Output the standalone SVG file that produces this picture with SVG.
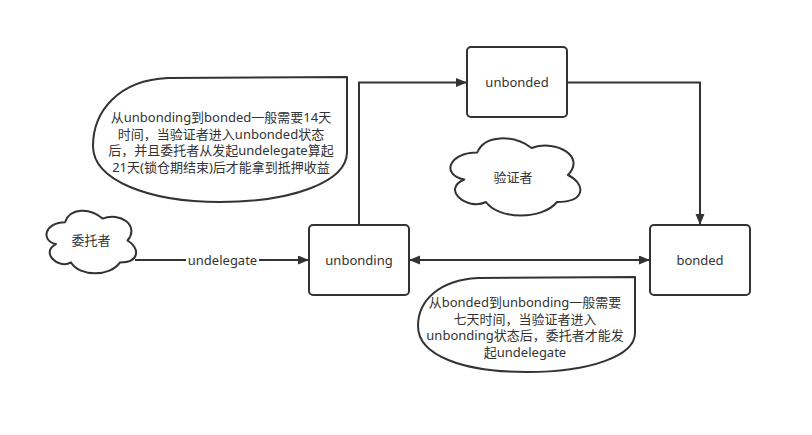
<svg xmlns="http://www.w3.org/2000/svg" width="812" height="435" viewBox="0 0 812 435">
<defs>
<style>
.box{fill:#fff;stroke:#333;stroke-width:2}
.shape{fill:#fff;stroke:#333;stroke-width:2;stroke-linejoin:round}
.edge{fill:none;stroke:#333;stroke-width:2}
text{font-family:"Noto Sans","Noto Sans CJK SC",sans-serif;font-size:13px;fill:#333;text-anchor:middle;dominant-baseline:central}
</style>
<marker id="arr" markerUnits="userSpaceOnUse" markerWidth="12" markerHeight="10" refX="11" refY="4.5" orient="auto-start-reverse">
<path d="M0,0 L11,4.5 L0,9 Z" fill="#333"/>
</marker>
</defs>
<rect width="812" height="435" fill="#fff"/>

<g id="callout-unbonding">
<path class="shape" d="M347,77 L347,152 C347,182 292,202 220,202 C148,202 93,180 93,146 C93,112 118,80 168,78 Z"/>
<text x="221" y="117">从unbonding到bonded一般需要14天</text>
<text x="221" y="133.5">时间，当验证者进入unbonded状态</text>
<text x="221" y="150">后，并且委托者从发起undelegate算起</text>
<text x="221" y="166.5">21天(锁仓期结束)后才能拿到抵押收益</text>
</g>

<g id="callout-bonded">
<path class="shape" d="M635,277 L635,333 C635,356 590,372 527,372 C464,372 418,356 418,326 C418,300 440,280 478,278 Z"/>
<text x="525" y="302.3">从bonded到unbonding一般需要</text>
<text x="525" y="318.8">七天时间，当验证者进入</text>
<text x="525" y="335.3">unbonding状态后，委托者才能发</text>
<text x="525" y="351.8">起undelegate</text>
</g>

<g id="connectors">
<path class="edge" d="M135,260 L309,260" marker-end="url(#arr)"/>
<rect x="186" y="252" width="73" height="16" fill="#fff"/>
<text x="222.5" y="260">undelegate</text>
<path class="edge" d="M359,225 L359,82.5 L467,82.5" marker-end="url(#arr)"/>
<path class="edge" d="M567,82.5 L700,82.5 L700,225" marker-end="url(#arr)"/>
<path class="edge" d="M409,260 L650,260" marker-start="url(#arr)" marker-end="url(#arr)"/>
</g>

<g id="delegator">
<path class="shape" d="M65,222.25 C45,222.25 40,240.5 56,244.15 C40,252.18 58,269.7 71,262.4 C80,277 110,277 120,262.4 C140,262.4 140,247.8 127.5,240.5 C140,225.9 120,211.3 102.5,218.6 C90,207.65 70,207.65 65,222.25 Z"/>
<text x="91" y="240">委托者</text>
</g>

<g id="validator">
<path class="shape" d="M477.25,152.5 C448.25,152.5 441,175 464.2,179.5 C441,189.4 467.1,211 485.95,202 C499,220 542.5,220 557,202 C586,202 586,184 567.875,175 C586,157 557,139 531.625,148 C513.5,134.5 484.5,134.5 477.25,152.5 Z"/>
<text x="513" y="177">验证者</text>
</g>

<g id="unbonding">
<rect class="box" x="309" y="225" width="100" height="70" rx="4"/>
<text x="359" y="260">unbonding</text>
</g>

<g id="unbonded">
<rect class="box" x="467" y="47" width="100" height="70" rx="4"/>
<text x="517" y="82">unbonded</text>
</g>

<g id="bonded">
<rect class="box" x="650" y="225" width="100" height="70" rx="4"/>
<text x="700" y="260">bonded</text>
</g>
</svg>
